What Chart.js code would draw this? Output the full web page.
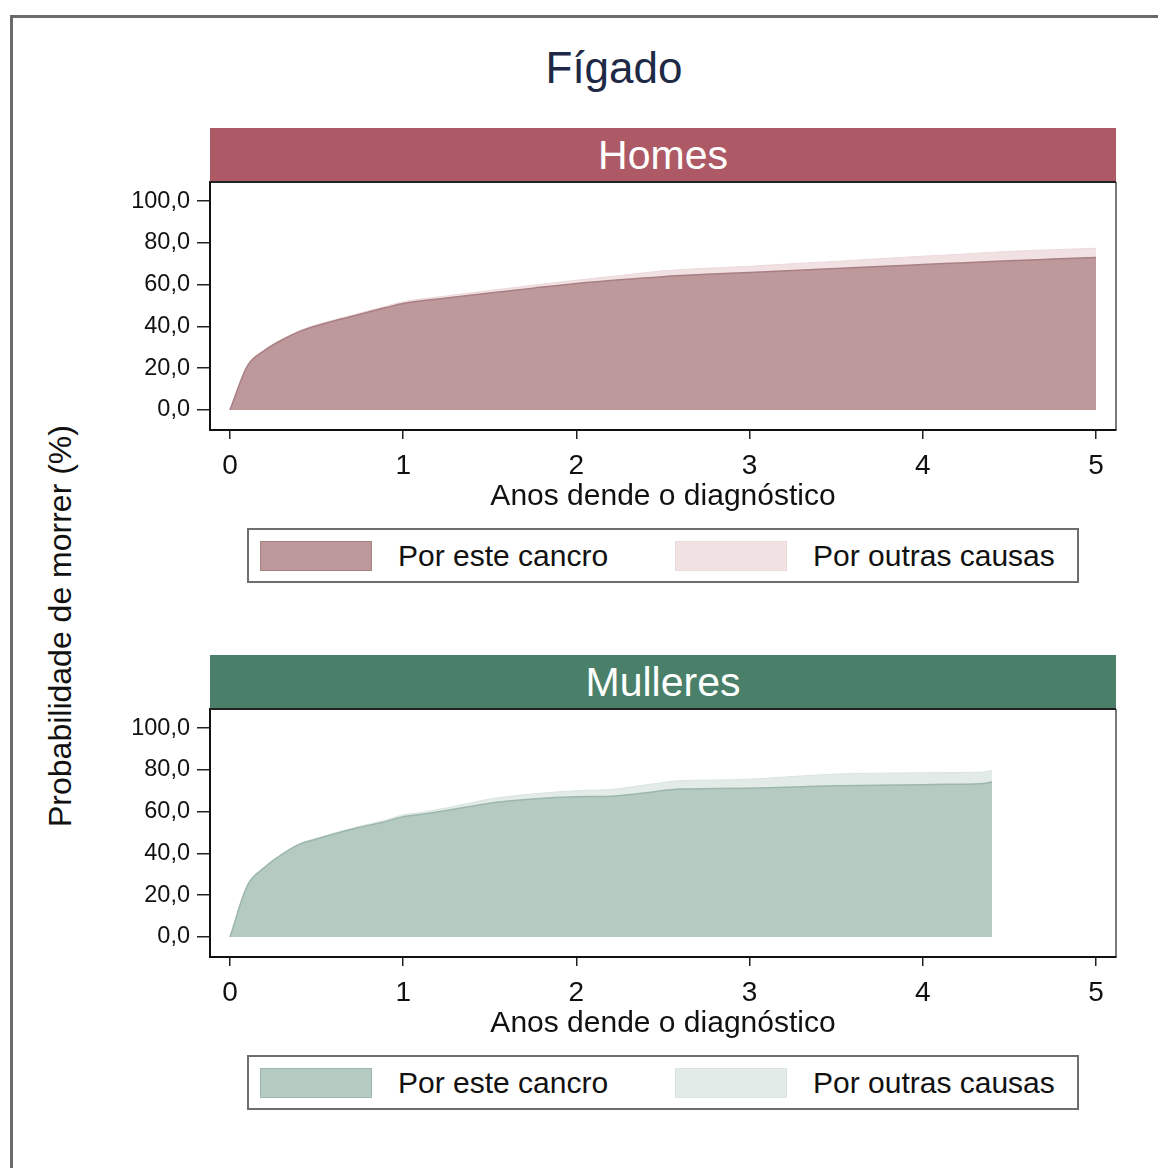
<!DOCTYPE html>
<html>
<head>
<meta charset="utf-8">
<script src="https://cdn.jsdelivr.net/npm/chart.js@4.4.0/dist/chart.umd.min.js"></script>
<style>
  html, body { margin: 0; padding: 0; background: #fff; overflow: hidden; }
  body { width: 1158px; height: 1168px; position: relative; font-family: "Liberation Sans", Arial, sans-serif; }
  .frame { position: absolute; left: 10px; top: 15px; width: 1300px; height: 1300px; border-left: 3px solid #6b6b6b; border-top: 3px solid #6b6b6b; }
  .title { position: absolute; left: 414px; width: 400px; top: 46px; text-align: center; font-size: 44px; line-height: 44px; color: #1d2945; }
  .ytitle { position: absolute; left: -190px; top: 610px; width: 500px; height: 32px; text-align: center; font-size: 32px; line-height: 32px; color: #111; transform: rotate(-90deg); transform-origin: 250px 16px; }
  .strip { position: absolute; left: 210px; width: 906px; height: 54px; color: #fff; font-size: 41px; line-height: 54px; text-align: center; }
  .panel { position: absolute; left: 100px; width: 1030px; height: 350px; }
  .legend { position: absolute; left: 247px; width: 828px; height: 51px; border: 2px solid #6e6e6e; background: #fff; }
  .legend .box { position: absolute; top: 11px; width: 110px; height: 28px; border: 1px solid; }
  .legend .lab { position: absolute; top: 10px; font-size: 30px; line-height: 32px; color: #111; white-space: nowrap; }
</style>
</head>
<body>
<div class="frame"></div>
<div class="title">Fígado</div>
<div class="ytitle">Probabilidade de morrer (%)</div>

<div class="strip" id="strip1" style="top:128px;background:#ad5a66;">Homes</div>
<canvas class="panel" id="c1" width="1030" height="350" style="top:172px;"></canvas>
<div class="legend" id="leg1" style="top:528px;"></div>

<div class="strip" id="strip2" style="top:655px;background:#4a7f69;">Mulleres</div>
<canvas class="panel" id="c2" width="1030" height="350" style="top:699px;"></canvas>
<div class="legend" id="leg2" style="top:1055px;"></div>

<script>
// tick labels
const yTicks = [0, 20, 40, 60, 80, 100];
const xTicks = [0, 1, 2, 3, 4, 5];
const seriesNames = ['Por este cancro', 'Por outras causas'];

// Homes
const anosHomes = [0, 0.1, 0.2, 0.3, 0.4, 0.5, 0.6, 0.75, 0.9, 1, 1.25, 1.5, 1.75, 2, 2.25, 2.5, 2.75, 3, 3.25, 3.5, 3.75, 4, 4.25, 4.5, 4.75, 5];
const homesCancro = [0, 21, 28.5, 33.5, 37.5, 40.3, 42.6, 45.8, 49, 51, 53.6, 56, 58.3, 60.5, 62.3, 63.8, 64.9, 65.8, 66.8, 67.7, 68.7, 69.6, 70.5, 71.4, 72.2, 73];
const homesOutras = [0, 0.1, 0.2, 0.3, 0.4, 0.5, 0.5, 0.6, 0.7, 0.8, 1, 1.2, 1.4, 1.6, 2, 2.8, 2.9, 3, 3.2, 3.4, 3.7, 4, 4.2, 4.5, 4.5, 4.4];

// Mulleres
const anosMulleres = [0, 0.1, 0.2, 0.3, 0.4, 0.5, 0.6, 0.75, 0.9, 1, 1.1, 1.25, 1.5, 1.75, 2, 2.2, 2.4, 2.6, 2.8, 3, 3.25, 3.5, 3.75, 4, 4.2, 4.35, 4.4];
const mulleresCancro = [0, 24.6, 33.3, 39.5, 44.3, 46.9, 49.3, 52.5, 55.3, 57.6, 58.6, 60.5, 64, 66, 67.1, 67.4, 69, 70.8, 71, 71.2, 71.8, 72.4, 72.6, 72.9, 73.1, 73.4, 74.2];
const mulleresOutras = [0, 0.1, 0.2, 0.2, 0.3, 0.3, 0.4, 0.5, 0.7, 0.9, 1, 1.3, 2, 2.5, 2.9, 3.2, 3.8, 4, 4.1, 4.3, 5, 5.6, 5.8, 5.7, 5.6, 5.5, 5.6];

const FONT = '"Liberation Sans", Arial, sans-serif';

const frameBox = {
  id: 'frameBox',
  afterDatasetsDraw(chart) {
    const a = chart.chartArea, ctx = chart.ctx;
    ctx.save();
    ctx.strokeStyle = '#222';
    ctx.lineWidth = 2;
    ctx.beginPath();
    ctx.moveTo(a.left, a.top);
    ctx.lineTo(a.right, a.top);
    ctx.stroke();
    ctx.lineWidth = 1.2;
    ctx.beginPath();
    ctx.moveTo(a.right, a.top);
    ctx.lineTo(a.right, a.bottom);
    ctx.stroke();
    ctx.restore();
  }
};

// drop the automatic label padding so the plot area sits exactly where it should
function noPad(s) {
  s.paddingTop = 0; s.paddingBottom = 0; s.paddingLeft = 0; s.paddingRight = 0;
}

function makePanel(id, anos, cancro, outras, cols) {
  const total = cancro.map((v, i) => v + outras[i]);
  const pts = arr => arr.map((v, i) => ({x: anos[i], y: v}));
  new Chart(document.getElementById(id), {
    type: 'line',
    data: {
      datasets: [
        {
          label: seriesNames[0],
          data: pts(cancro),
          backgroundColor: cols.dark,
          borderColor: cols.darkLine,
          borderWidth: 1.5,
          fill: 'origin',
          pointRadius: 0,
          cubicInterpolationMode: 'monotone'
        },
        {
          label: seriesNames[1],
          data: pts(total),
          backgroundColor: cols.light,
          borderColor: cols.lightLine,
          borderWidth: 1,
          fill: 'origin',
          pointRadius: 0,
          cubicInterpolationMode: 'monotone'
        }
      ]
    },
    options: {
      responsive: false,
      animation: false,
      layout: { padding: { left: 0, right: 14, top: 10, bottom: 0 } },
      plugins: { legend: { display: false }, tooltip: { enabled: false } },
      scales: {
        x: {
          type: 'linear',
          min: -0.1155,
          max: 5.1155,
          afterBuildTicks: s => { s.ticks = xTicks.map(v => ({value: v})); },
          afterFit: s => { s.height = 92; noPad(s); },
          border: { display: true, color: '#111', width: 2 },
          grid: { drawOnChartArea: false, drawTicks: true, tickLength: 9, color: '#222', lineWidth: 1.5 },
          ticks: { color: '#111', font: { family: FONT, size: 28, lineHeight: 1 }, padding: 13, maxRotation: 0 },
          title: { display: true, text: 'Anos dende o diagnóstico', color: '#111', font: { family: FONT, size: 30, lineHeight: 1 }, padding: { top: 0, bottom: 10 } }
        },
        y: {
          type: 'linear',
          min: -9.57,
          max: 109.1,
          afterBuildTicks: s => { s.ticks = yTicks.map(v => ({value: v})); },
          afterFit: s => { s.width = 110; noPad(s); },
          border: { display: true, color: '#111', width: 2 },
          grid: { drawOnChartArea: false, drawTicks: true, tickLength: 13, color: '#222', lineWidth: 1.5 },
          ticks: { color: '#111', font: { family: FONT, size: 23.5 }, padding: 7, callback: v => v.toFixed(1).replace('.', ',') }
        }
      }
    },
    plugins: [frameBox]
  });
}

function makeLegend(id, cols) {
  const el = document.getElementById(id);
  el.innerHTML =
    '<div class="box" style="left:11px;background:' + cols.dark + ';border-color:' + cols.darkLine + '"></div>' +
    '<div class="lab" style="left:149px">' + seriesNames[0] + '</div>' +
    '<div class="box" style="left:426px;background:' + cols.light + ';border-color:' + cols.lightLine + '"></div>' +
    '<div class="lab" style="left:564px">' + seriesNames[1] + '</div>';
}

const colsHomes = { dark: '#bd999b', darkLine: '#a97f83', light: '#f1e1e2', lightLine: '#ecd9db' };
const colsMulleres = { dark: '#b5cbc1', darkLine: '#9db7ab', light: '#e2ebe7', lightLine: '#dae5e0' };

makePanel('c1', anosHomes, homesCancro, homesOutras, colsHomes);
makePanel('c2', anosMulleres, mulleresCancro, mulleresOutras, colsMulleres);
makeLegend('leg1', colsHomes);
makeLegend('leg2', colsMulleres);
</script>
</body>
</html>
